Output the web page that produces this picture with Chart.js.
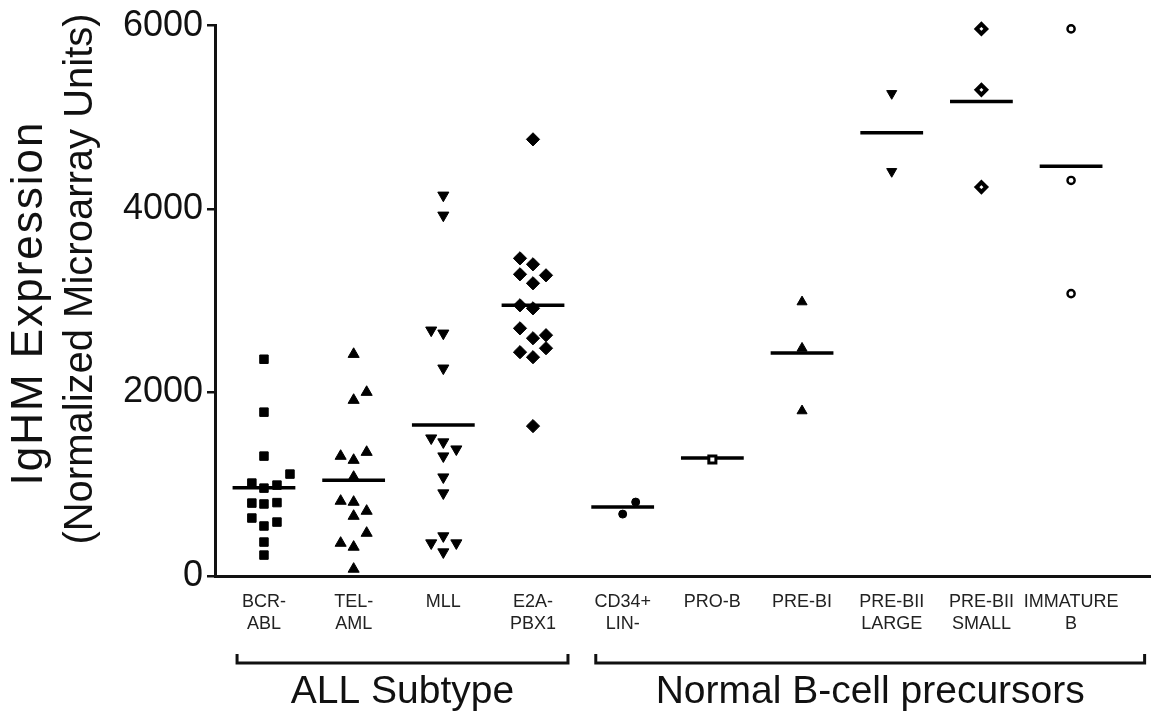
<!DOCTYPE html>
<html><head><meta charset="utf-8">
<script src="https://cdn.jsdelivr.net/npm/chart.js@4.4.0/dist/chart.umd.min.js"></script>
<style>html,body{margin:0;padding:0;background:#fff;}#wrap{width:1153px;height:715px;}</style>
</head><body><div id="wrap"><canvas id="c" width="1153" height="715"></canvas></div>
<script>
// ---------- data ----------
const categories = [["BCR-","ABL"],["TEL-","AML"],["MLL"],["E2A-","PBX1"],["CD34+","LIN-"],["PRO-B"],["PRE-BI"],["PRE-BII","LARGE"],["PRE-BII","SMALL"],["IMMATURE","B"]];
const yTicks = [0, 2000, 4000, 6000];
const yTitle = ["IgHM Expression", "(Normalized Microarray Units)"];

const bcrAbl       = [2363, 1786, 1307, 1111, 1013, 958, 991, 795, 785, 800, 632, 545, 588, 370, 228];
const bcrAblJitter = [0, 0, 0, 0.29, -0.135, 0, 0.145, -0.135, 0, 0.145, -0.135, 0, 0.145, 0, 0];
const telAml       = [2418, 2004, 1917, 1307, 1263, 1350, 1078, 817, 806, 708, 653, 359, 316, 468, 76];
const telAmlJitter = [0, 0.145, 0, -0.145, 0, 0.145, 0, -0.145, 0, 0.145, 0, -0.145, 0, 0.145, 0];
const mll          = [4150, 3932, 2679, 2646, 2265, 1503, 1460, 1383, 1307, 1078, 904, 436, 359, 359, 261];
const mllJitter    = [0, 0, -0.135, 0, 0, -0.135, 0, 0.145, 0, 0, 0, 0, -0.135, 0.145, 0];
const e2aPbx1      = [4760, 3463, 3398, 3289, 3278, 3191, 2951, 2918, 2700, 2592, 2625, 2483, 2440, 2385, 1634];
const e2aPbx1Jitter= [0, -0.145, 0, -0.145, 0.145, 0, -0.145, 0, -0.145, 0, 0.145, 0.145, -0.145, 0, 0];
const cd34Lin      = [675, 806];
const cd34LinJitter= [0, 0.145];
const proB         = [1270];
const proBJitter   = [0];
const preBI        = [2988, 2483, 1800];
const preBIJitter  = [0, 0, 0];
const preBIILarge  = [5260, 4410];
const preBIILargeJitter = [0, 0];
const preBIISmall  = [5964, 5300, 4240];
const preBIISmallJitter = [0, 0, 0];
const immatureB    = [5964, 4312, 3078];
const immatureBJitter = [0, 0, 0];

const groupMeans = [962, 1045, 1645, 2951, 752, 1285, 2432, 4831, 5172, 4468];
const groupLabels = ["ALL Subtype", "Normal B-cell precursors"];

// ---------- presentation ----------
const seriesValues = [bcrAbl, telAml, mll, e2aPbx1, cd34Lin, proB, preBI, preBIILarge, preBIISmall, immatureB];
const seriesJitter = [bcrAblJitter, telAmlJitter, mllJitter, e2aPbx1Jitter, cd34LinJitter, proBJitter, preBIJitter, preBIILargeJitter, preBIISmallJitter, immatureBJitter];
const markerStyles = [
  {style:'rect', r:6, fill:'#000', bw:1, rot:0},
  {style:'triangle', r:6.4, fill:'#000', bw:1, rot:0},
  {style:'triangle', r:6.4, fill:'#000', bw:1, rot:180},
  {style:'rectRot', r:6.6, fill:'#000', bw:1, rot:0},
  {style:'circle', r:4, fill:'#000', bw:1, rot:0},
  {style:'rect', r:5, fill:'#fff', bw:3, rot:0},
  {style:'triangle', r:5.8, fill:'#000', bw:1, rot:0},
  {style:'triangle', r:5.8, fill:'#000', bw:1, rot:180},
  {style:'rectRot', r:4.8, fill:'#fff', bw:4, rot:0},
  {style:'circle', r:3.6, fill:'#fff', bw:2.4, rot:0}
];
const MEAN_HALF = 0.35;
const FONT = "'Liberation Sans', Arial, Helvetica, sans-serif";

const datasets = [];
seriesValues.forEach((vals, i) => {
  const m = markerStyles[i];
  datasets.push({
    type: 'scatter',
    data: vals.map((v, k) => ({x: i + seriesJitter[i][k], y: v})),
    pointStyle: m.style, pointRadius: m.r, pointRotation: m.rot,
    pointBackgroundColor: m.fill, pointBorderColor: '#000', pointBorderWidth: m.bw,
    clip: false
  });
});
groupMeans.forEach((mv, i) => {
  datasets.push({
    type: 'line',
    data: [{x: i - MEAN_HALF, y: mv}, {x: i + MEAN_HALF, y: mv}],
    borderColor: '#000', borderWidth: 3.5, pointRadius: 0, fill: false, clip: false
  });
});

const bracketPlugin = {
  id: 'brackets',
  afterDraw(chart, args, opts) {
    const ctx = chart.ctx, xs = chart.scales.x;
    opts.groups.forEach(g => {
      const l = xs.getPixelForValue(g.from), r = xs.getPixelForValue(g.to);
      ctx.save();
      ctx.strokeStyle = '#111'; ctx.lineWidth = 3; ctx.lineJoin = 'miter';
      ctx.beginPath();
      ctx.moveTo(l, opts.y - opts.tick); ctx.lineTo(l, opts.y); ctx.lineTo(r, opts.y); ctx.lineTo(r, opts.y - opts.tick);
      ctx.stroke();
      ctx.fillStyle = '#111';
      ctx.font = opts.font;
      ctx.textAlign = 'center'; ctx.textBaseline = 'middle';
      ctx.fillText(g.label, (l + r) / 2, opts.labelY);
      ctx.restore();
    });
  }
};

const yTitlePlugin = {
  id: 'ytitle',
  afterDraw(chart, args, opts) {
    const ctx = chart.ctx;
    opts.lines.forEach((ln, i) => {
      ctx.save();
      ctx.translate(ln.x, ln.y);
      ctx.rotate(-Math.PI / 2);
      ctx.font = ln.font;
      ctx.fillStyle = '#111';
      ctx.textAlign = 'center'; ctx.textBaseline = 'middle';
      if ('letterSpacing' in ctx) ctx.letterSpacing = ln.spacing + 'px';
      ctx.fillText(yTitle[i], 0, 0);
      ctx.restore();
    });
  }
};

new Chart(document.getElementById('c'), {
  type: 'scatter',
  data: { datasets },
  plugins: [bracketPlugin, yTitlePlugin],
  options: {
    responsive: false, animation: false, devicePixelRatio: 1,
    layout: { autoPadding: false, padding: { top: 25, right: 3, left: 0, bottom: 0 } },
    plugins: {
      legend: { display: false }, tooltip: { enabled: false },
      brackets: {
        y: 663, tick: 9, labelY: 692, font: `39px ${FONT}`,
        groups: [
          {from: -0.30, to: 3.39, label: groupLabels[0]},
          {from: 3.70, to: 9.82, label: groupLabels[1]}
        ]
      },
      ytitle: {
        lines: [ {x: 30, y: 303, spacing: 2, font: `44px ${FONT}`}, {x: 81, y: 279, spacing: 0, font: `40px ${FONT}`} ]
      }
    },
    scales: {
      x: {
        type: 'linear', min: -0.546, max: 9.88,
        afterBuildTicks: s => { s.ticks = categories.map((c, i) => ({value: i})); },
        afterFit: s => { s.height = 139; s.paddingLeft = 0; s.paddingRight = 0; },
        grid: { display: false },
        border: { display: true, color: '#111', width: 3 },
        ticks: {
          autoSkip: false, maxRotation: 0, minRotation: 0, padding: 7,
          color: '#222', font: { family: FONT, size: 18, lineHeight: 1.22 },
          callback: v => categories[v]
        }
      },
      y: {
        min: 0, max: 6000,
        afterBuildTicks: s => { s.ticks = yTicks.map(v => ({value: v})); },
        afterFit: s => { s.width = 215; },
        grid: { drawOnChartArea: false, drawTicks: true, tickLength: 8, color: '#111', lineWidth: 2.5 },
        border: { display: true, color: '#111', width: 3 },
        ticks: { color: '#111', padding: 4, font: { family: FONT, size: 36 }, callback: v => String(v) }
      }
    }
  }
});
</script></body></html>
